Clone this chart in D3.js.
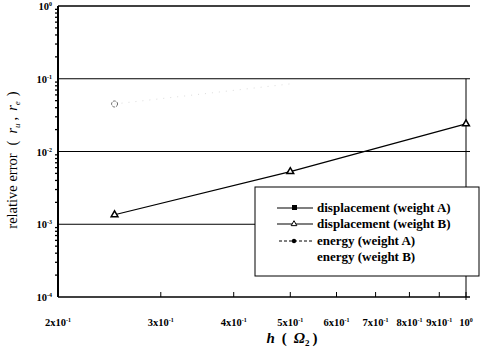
<!DOCTYPE html>
<html lang="en">
<head>
    <meta charset="UTF-8">
    <title>relative error</title>
    <script src="https://cdn.jsdelivr.net/npm/d3@7"></script>
    <style>
        body { margin: 0; background: #fff; }
        text { font-family: "Liberation Serif", "DejaVu Serif", serif; }
    </style>
</head>
<body>
<script>
    // data
    const hValues = [0.25, 0.5, 1.0]
    const dispB = [1.35e-3, 5.3e-3, 2.4e-2]
    const energyH = [0.25, 0.5]
    const energyA = [0.045, 0.085]
    const xTicks = [0.2, 0.3, 0.4, 0.5, 0.6, 0.7, 0.8, 0.9, 1.0]
    const xTickLabels = [['2x10', '-1'], ['3x10', '-1'], ['4x10', '-1'], ['5x10', '-1'], ['6x10', '-1'],
        ['7x10', '-1'], ['8x10', '-1'], ['9x10', '-1'], ['10', '0']]
    const yDecades = [1, 0.1, 0.01, 0.001, 0.0001]
    const yTickLabels = [['10', '0'], ['10', '-1'], ['10', '-2'], ['10', '-3'], ['10', '-4']]
    const legendLabels = ['displacement (weight A)', 'displacement (weight B)', 'energy (weight A)', 'energy (weight B)']

    const W = 487, H = 352
    const svg = d3.select('body').append('svg').attr('width', W).attr('height', H)

    const x = d3.scaleLog().domain([0.2, 1.0]).range([58, 466])
    const y = d3.scaleLog().domain([1e-4, 1]).range([297, 6])

    // horizontal decade lines
    svg.selectAll('line.grid').data(yDecades).enter().append('line')
        .attr('x1', x(0.2)).attr('x2', x(1.0) + 4)
        .attr('y1', d => y(d)).attr('y2', d => y(d))
        .attr('stroke', '#000').attr('stroke-width', d => (d === 1 || d === 1e-4) ? 1.6 : 1)

    // left axis line and right frame
    svg.append('line').attr('x1', x(0.2)).attr('x2', x(0.2)).attr('y1', y(1)).attr('y2', y(1e-4))
        .attr('stroke', '#000').attr('stroke-width', 2)
    svg.append('line').attr('x1', x(1)).attr('x2', x(1)).attr('y1', y(0.1)).attr('y2', y(1e-4) + 3)
        .attr('stroke', '#000').attr('stroke-width', 1)

    // y minor ticks
    const yMinor = []
    yDecades.slice(0, 4).forEach(d => { for (let k = 2; k <= 9; k++) yMinor.push(d / 10 * k) })
    svg.selectAll('line.ymin').data(yMinor).enter().append('line')
        .attr('x1', x(0.2) - 3).attr('x2', x(0.2) + 1)
        .attr('y1', d => y(d)).attr('y2', d => y(d))
        .attr('stroke', '#000').attr('stroke-width', 1.3)

    // x ticks (inward from bottom)
    svg.selectAll('line.xt').data(xTicks).enter().append('line')
        .attr('x1', d => x(d)).attr('x2', d => x(d))
        .attr('y1', y(1e-4)).attr('y2', y(1e-4) - 5)
        .attr('stroke', '#000').attr('stroke-width', 1)

    // x tick labels
    const xl = svg.selectAll('text.xl').data(xTicks).enter().append('text')
        .attr('x', d => x(d)).attr('y', 326)
        .attr('text-anchor', 'middle')
        .attr('font-size', 10.5).attr('font-weight', 'bold')
    xl.append('tspan').text((d, i) => xTickLabels[i][0])
    xl.append('tspan').attr('dy', -4).attr('font-size', 6).text((d, i) => xTickLabels[i][1])

    // y tick labels
    const yl = svg.selectAll('text.yl').data(yDecades).enter().append('text')
        .attr('x', x(0.2) - 6).attr('y', d => y(d) + 4)
        .attr('text-anchor', 'end')
        .attr('font-size', 10.5).attr('font-weight', 'bold')
    yl.append('tspan').text((d, i) => yTickLabels[i][0])
    yl.append('tspan').attr('dy', -4).attr('font-size', 6).text((d, i) => yTickLabels[i][1])

    // energy (weight A) - faint dotted
    const line = d3.line().x(d => x(d[0])).y(d => y(d[1]))
    const eData = energyH.map((h, i) => [h, energyA[i]])
    svg.append('path').datum(eData).attr('d', line)
        .attr('fill', 'none').attr('stroke', '#ddd').attr('stroke-width', 1)
        .attr('stroke-dasharray', '1,6')
    svg.append('circle').attr('cx', x(eData[0][0])).attr('cy', y(eData[0][1])).attr('r', 3)
        .attr('fill', 'none').attr('stroke', '#666').attr('stroke-width', 1)
        .attr('stroke-dasharray', '3,1')

    // displacement (weight B)
    const dData = hValues.map((h, i) => [h, dispB[i]])
    svg.append('path').datum(dData).attr('d', line)
        .attr('fill', 'none').attr('stroke', '#000').attr('stroke-width', 1.2)
    const tri = d3.symbol().type(d3.symbolTriangle).size(20)
    svg.selectAll('path.tri').data(dData).enter().append('path')
        .attr('d', tri)
        .attr('transform', d => `translate(${x(d[0])},${y(d[1])})`)
        .attr('fill', '#fff').attr('stroke', '#000').attr('stroke-width', 1.5)

    // legend
    const lg = svg.append('g')
    lg.append('rect').attr('x', 255).attr('y', 187).attr('width', 224).attr('height', 89)
        .attr('fill', '#fff').attr('stroke', '#000').attr('stroke-width', 1)
    const rows = [208, 224, 241, 257]
    lg.selectAll('text').data(legendLabels).enter().append('text')
        .attr('x', 317).attr('y', (d, i) => rows[i] + 4)
        .attr('font-size', 13).attr('font-weight', 'bold')
        .text(d => d)
    // samples
    lg.append('line').attr('x1', 277).attr('x2', 313).attr('y1', rows[0]).attr('y2', rows[0]).attr('stroke', '#000').attr('stroke-width', 1.2)
    lg.append('rect').attr('x', 292).attr('y', rows[0] - 3).attr('width', 5).attr('height', 5).attr('fill', '#000')
    lg.append('line').attr('x1', 277).attr('x2', 313).attr('y1', rows[1]).attr('y2', rows[1]).attr('stroke', '#000').attr('stroke-width', 1.2)
    lg.append('path').attr('d', d3.symbol().type(d3.symbolTriangle).size(14)).attr('transform', `translate(294,${rows[1]})`)
        .attr('fill', '#fff').attr('stroke', '#000').attr('stroke-width', 1)
    lg.append('line').attr('x1', 279).attr('x2', 313).attr('y1', rows[2]).attr('y2', rows[2]).attr('stroke', '#000').attr('stroke-width', 1)
        .attr('stroke-dasharray', '3,2')
    lg.append('circle').attr('cx', 294).attr('cy', rows[2]).attr('r', 2.2).attr('fill', '#000')

    // axis titles
    const xt = svg.append('text').attr('x', 292).attr('y', 343).attr('text-anchor', 'middle')
        .attr('font-size', 15).attr('font-weight', 'bold')
    xt.append('tspan').attr('font-style', 'italic').text('h')
    xt.append('tspan').attr('dx', 7).text('(')
    xt.append('tspan').attr('dx', 7).attr('font-style', 'italic').text('Ω')
    xt.append('tspan').attr('dy', 3).attr('font-size', 9).text('2')
    xt.append('tspan').attr('dx', 3).attr('dy', -3).text(')')

    const yt = svg.append('text').attr('transform', 'translate(17,160) rotate(-90)')
        .attr('text-anchor', 'middle').attr('font-size', 14.5)
    yt.append('tspan').text('relative error')
    yt.append('tspan').attr('dx', 8).text('(')
    yt.append('tspan').attr('dx', 7).attr('font-style', 'italic').text('r')
    yt.append('tspan').attr('dy', 3).attr('font-size', 9).attr('font-style', 'italic').text('u')
    yt.append('tspan').attr('dx', 3).attr('dy', -3).text(',')
    yt.append('tspan').attr('dx', 6).attr('font-style', 'italic').text('r')
    yt.append('tspan').attr('dy', 3).attr('font-size', 9).attr('font-style', 'italic').text('e')
    yt.append('tspan').attr('dx', 5).attr('dy', -3).text(')')
</script>
</body>
</html>
